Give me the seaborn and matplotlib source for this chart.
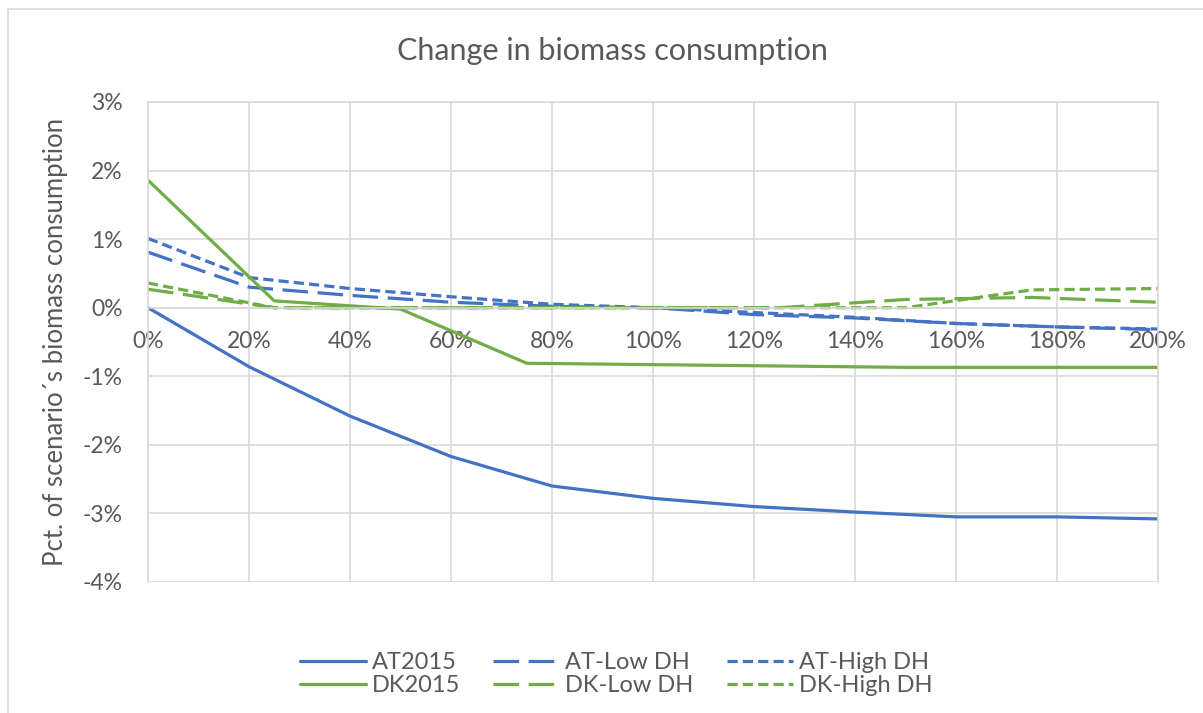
import numpy as np
import pandas as pd
import matplotlib
matplotlib.use("Agg")
import matplotlib.pyplot as plt
from matplotlib.ticker import FuncFormatter, MultipleLocator
from matplotlib.patches import Rectangle
import seaborn as sns

# x values (share of reference), y values (pct change of biomass consumption)
x_at = [0, 20, 40, 60, 80, 100, 120, 140, 160, 180, 200]
x_dk = [0, 25, 50, 75, 100, 125, 150, 175, 200]

at2015 = [0.00, -0.86, -1.58, -2.17, -2.60, -2.78, -2.90, -2.98, -3.05, -3.05, -3.08]
at_low = [0.81, 0.30, 0.18, 0.08, 0.02, 0.00, -0.10, -0.15, -0.23, -0.28, -0.32]
at_high = [1.01, 0.44, 0.28, 0.16, 0.05, 0.00, -0.07, -0.14, -0.23, -0.28, -0.31]
dk2015 = [1.86, 0.10, -0.02, -0.81, -0.83, -0.85, -0.87, -0.87, -0.87]
dk_low = [0.27, 0.00, 0.00, 0.00, 0.00, 0.00, 0.12, 0.15, 0.08]
dk_high = [0.36, 0.00, 0.00, 0.00, 0.00, 0.00, 0.00, 0.26, 0.28]

series_names = ["AT2015", "AT-Low DH", "AT-High DH", "DK2015", "DK-Low DH", "DK-High DH"]

BLUE = "#4472C4"
GREEN = "#70AD47"
GREY_TXT = "#595959"
GRID = "#D9D9D9"

def build_df():
    parts = []
    for name, xs, ys in [("AT2015", x_at, at2015), ("AT-Low DH", x_at, at_low),
                         ("AT-High DH", x_at, at_high), ("DK2015", x_dk, dk2015),
                         ("DK-Low DH", x_dk, dk_low), ("DK-High DH", x_dk, dk_high)]:
        parts.append(pd.DataFrame({"x": xs, "y": ys, "series": name}))
    return pd.concat(parts, ignore_index=True)

df = build_df()

sns.set_style("white")
plt.rcParams["font.family"] = ["Lato", "DejaVu Sans"]

fig = plt.figure(figsize=(12.03, 7.13), dpi=100)
ax = fig.add_axes([148 / 1203, 1 - 582 / 713, 1010 / 1203, 480 / 713])

palette = {"AT2015": BLUE, "AT-Low DH": BLUE, "AT-High DH": BLUE,
           "DK2015": GREEN, "DK-Low DH": GREEN, "DK-High DH": GREEN}
dashes = {"AT2015": "", "AT-Low DH": (8, 3), "AT-High DH": (3.2, 1.6),
          "DK2015": "", "DK-Low DH": (8, 3), "DK-High DH": (3.2, 1.6)}

sns.lineplot(data=df, x="x", y="y", hue="series", style="series",
             palette=palette, dashes=dashes, hue_order=series_names,
             style_order=series_names, linewidth=2.3, sort=False,
             legend="full", ax=ax)

ax.set_xlim(0, 200)
ax.set_ylim(-4, 3)
ax.xaxis.set_major_locator(MultipleLocator(20))
ax.yaxis.set_major_locator(MultipleLocator(1))
ax.xaxis.set_major_formatter(FuncFormatter(lambda v, p: f"{v:.0f}%"))
ax.yaxis.set_major_formatter(FuncFormatter(lambda v, p: f"{v:.0f}%"))
ax.grid(True, color=GRID, linewidth=1.2)
ax.set_axisbelow(True)

for s in ["top", "right", "left"]:
    ax.spines[s].set_color(GRID)
    ax.spines[s].set_linewidth(1.2)
ax.spines["bottom"].set_position(("data", 0))
ax.spines["bottom"].set_color(GRID)
ax.spines["bottom"].set_linewidth(1.2)

ax.tick_params(axis="both", length=0, labelsize=16.5, labelcolor=GREY_TXT)
ax.tick_params(axis="x", pad=17)
ax.tick_params(axis="y", pad=18)

ax.set_xlabel("")
ax.set_ylabel("Pct. of scenario´s biomass consumption", fontsize=18.5, color=GREY_TXT)
ax.yaxis.set_label_coords(-0.079, 0.5)

fig.text(612 / 1203, 1 - 51 / 713, "Change in biomass consumption",
         ha="center", va="center", fontsize=22, color=GREY_TXT)

# legend, 3 columns, row-wise order
handles, labels = ax.get_legend_handles_labels()
lookup = dict(zip(labels, handles))
order = ["AT2015", "DK2015", "AT-Low DH", "DK-Low DH", "AT-High DH", "DK-High DH"]
ax.legend([lookup[k] for k in order], order, ncol=3, loc="center",
          bbox_to_anchor=(616 / 1203, 1 - 674 / 713), bbox_transform=fig.transFigure,
          frameon=False, fontsize=17, labelcolor=GREY_TXT, handlelength=2.8,
          handletextpad=0.25, columnspacing=1.4, labelspacing=0.1)

# chart area border
fig.patches.append(Rectangle((8 / 1203, -0.1), 1.2, 1 - 9 / 713 + 0.1,
                             transform=fig.transFigure, fill=False,
                             edgecolor=GRID, linewidth=1.2))

fig.savefig("out.png", dpi=100)
